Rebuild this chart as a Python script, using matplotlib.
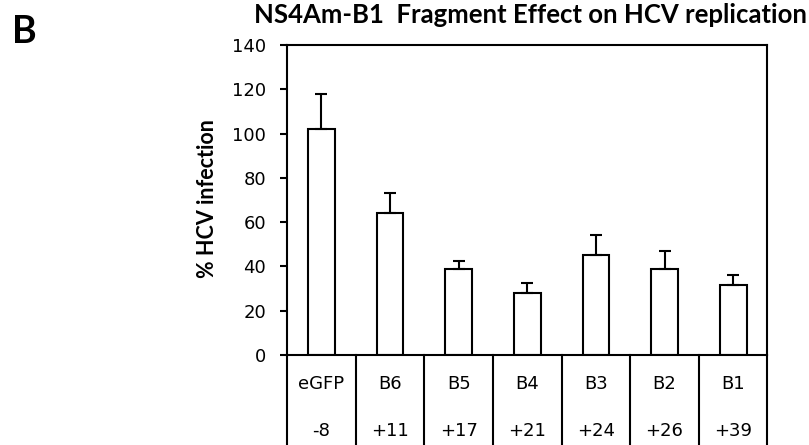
import matplotlib
matplotlib.use('Agg')
import matplotlib.pyplot as plt
import matplotlib.transforms as mtransforms

# data
fragments = ['eGFP', 'B6', 'B5', 'B4', 'B3', 'B2', 'B1']
charge = ['-8', '+11', '+17', '+21', '+24', '+26', '+39']
infection = [102, 64, 39, 28, 45, 39, 31.5]
infection_err = [16, 9, 3.6, 4.5, 9, 8, 4.5]
y_ticks = [0, 20, 40, 60, 80, 100, 120, 140]

plt.rcParams['font.family'] = ['DejaVu Sans']
lw = 1.5

fig = plt.figure(figsize=(8.09, 4.45), dpi=100)
ax = fig.add_axes([0.3548, 0.2022, 0.5939, 0.6967])

x = list(range(len(fragments)))
ax.bar(x, infection, width=0.39, color='white', edgecolor='black', linewidth=lw,
       yerr=[[0] * len(infection_err), infection_err],
       error_kw=dict(ecolor='black', elinewidth=lw, capsize=4.5, capthick=lw))

ax.set_xlim(-0.5, len(fragments) - 0.5)
ax.set_ylim(0, 140)
ax.set_yticks(y_ticks)
ax.set_yticklabels([str(v) for v in y_ticks], fontsize=13)
ax.tick_params(axis='y', length=5, width=lw, pad=10)
ax.set_xticks([])
for sp in ax.spines.values():
    sp.set_linewidth(lw)

# table under the axis
trans = mtransforms.blended_transform_factory(ax.transData, ax.transAxes)
for i in range(len(fragments) + 1):
    ax.plot([i - 0.5, i - 0.5], [0, -0.35], transform=trans, color='black',
            linewidth=lw, clip_on=False)
for i in x:
    ax.text(i, -0.0945, fragments[i], transform=trans, ha='center', va='center', fontsize=13)
    ax.text(i, -0.245, charge[i], transform=trans, ha='center', va='center', fontsize=13)

fig.text(530 / 809, 1 - 22.7 / 445, 'NS4Am-B1  Fragment Effect on HCV replication',
         family='Lato', fontweight='bold', fontsize=18.5, ha='center', va='baseline')
fig.text(207.5 / 809, 1 - 198.5 / 445, '% HCV infection', family='Lato',
         fontweight='bold', fontsize=15.5, rotation=90, ha='center', va='center')
fig.text(12 / 809, 1 - 43 / 445, 'B', family='Lato', fontweight='bold', fontsize=27,
         ha='left', va='baseline')

fig.savefig('out.png', dpi=100)
